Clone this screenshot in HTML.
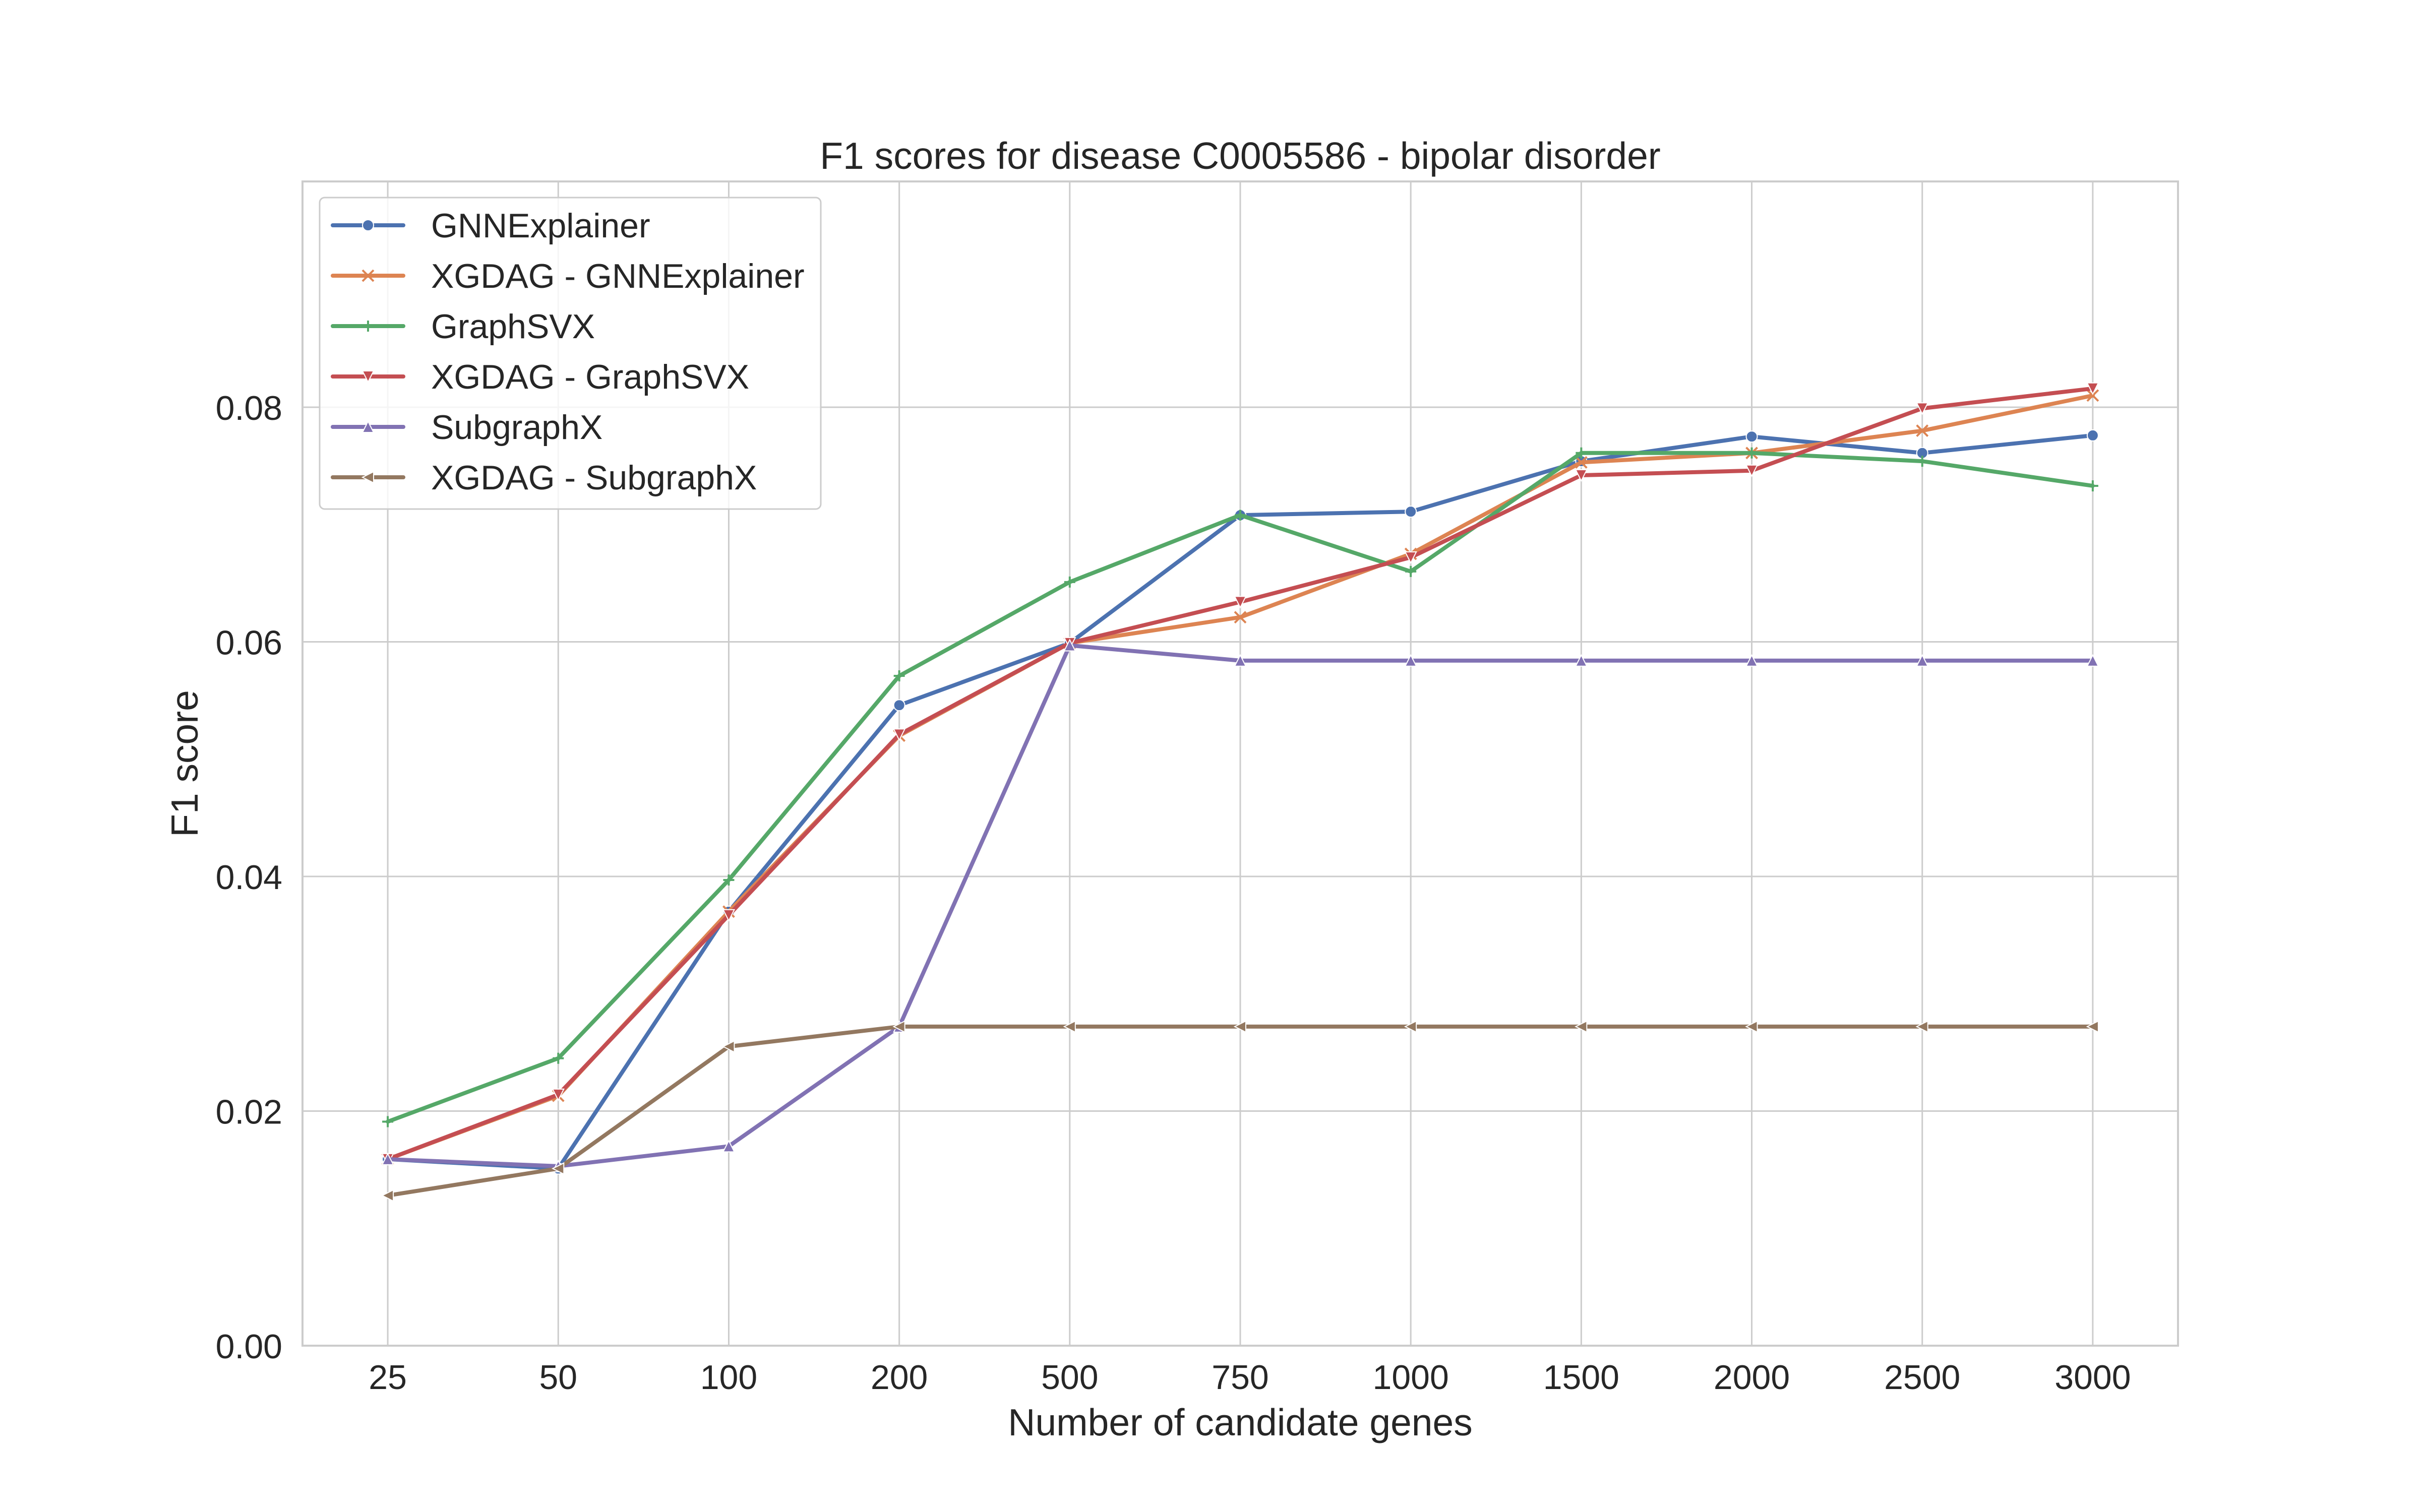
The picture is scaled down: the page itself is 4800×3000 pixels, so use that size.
<!DOCTYPE html>
<html><head><meta charset="utf-8"><style>
html,body{margin:0;padding:0;background:#fff;}
svg{display:block;font-family:"Liberation Sans","DejaVu Sans",sans-serif;}
</style></head><body>
<svg id="chart" width="4800" height="3000" viewBox="0 0 4800 3000" xmlns="http://www.w3.org/2000/svg">
<rect width="4800" height="3000" fill="#fff"/>
<g id="grid"></g>
<rect x="600" y="360" width="3720" height="2310" fill="none" stroke="#cccccc" stroke-width="4"/>
<g id="series"></g>
<g id="ticks"></g>
<text x="2460" y="335" text-anchor="middle" font-size="75" fill="#262626">F1 scores for disease C0005586 - bipolar disorder</text>
<text x="2460" y="2848" text-anchor="middle" font-size="75" fill="#262626">Number of candidate genes</text>
<text transform="translate(392,1515) rotate(-90)" text-anchor="middle" font-size="75" fill="#262626">F1 score</text>
<g id="legend"></g>
</svg>
<script>
const categories = ["25","50","100","200","500","750","1000","1500","2000","2500","3000"];
const yTicks = [0, 0.02, 0.04, 0.06, 0.08];
const yTickLabels = ["0.00","0.02","0.04","0.06","0.08"];
const seriesNames = ["GNNExplainer","XGDAG - GNNExplainer","GraphSVX","XGDAG - GraphSVX","SubgraphX","XGDAG - SubgraphX"];
const gnnExplainer = [0.0159,0.0151,0.0370,0.0546,0.0599,0.0708,0.0711,0.0754,0.0775,0.0761,0.0776];
const xgdagGnn = [0.0159,0.0213,0.0370,0.0520,0.0599,0.0621,0.0675,0.0753,0.0761,0.0780,0.0810];
const graphSvx = [0.0191,0.0245,0.0397,0.0571,0.0651,0.0708,0.0660,0.0761,0.0761,0.0754,0.0733];
const xgdagSvx = [0.0159,0.0214,0.0367,0.0521,0.0599,0.0634,0.0672,0.0742,0.0746,0.0799,0.0816];
const subgraphX = [0.0159,0.0153,0.0170,0.0272,0.0597,0.0584,0.0584,0.0584,0.0584,0.0584,0.0584];
const xgdagSub = [0.0128,0.0151,0.0255,0.0272,0.0272,0.0272,0.0272,0.0272,0.0272,0.0272,0.0272];
const allSeries = [gnnExplainer,xgdagGnn,graphSvx,xgdagSvx,subgraphX,xgdagSub];
const colors = ["#4c72b0","#dd8452","#55a868","#c44e52","#8172b3","#937860"];
const markers = ["circle","x","plus","tridown","triup","trileft"];

const L=600,R=4320,T=360,B=2670,YMAX=0.09925;
const xs = i => L + (i+0.5)*(R-L)/categories.length;
const ys = v => B - v/YMAX*(B-T);
const NS="http://www.w3.org/2000/svg";
function mk(tag, attrs, parent){const e=document.createElementNS(NS,tag);for(const k in attrs)e.setAttribute(k,attrs[k]);parent.appendChild(e);return e;}
const grid=document.getElementById('grid'),ticks=document.getElementById('ticks'),series=document.getElementById('series'),legend=document.getElementById('legend');

categories.forEach((c,i)=>{
  const l=mk('line',{x1:xs(i),x2:xs(i),y1:T,y2:B,stroke:'#cccccc','stroke-width':3},grid);
  
  
  const t=mk('text',{x:xs(i),y:B+86,'text-anchor':'middle','font-size':68,fill:'#262626'},ticks);
  t.textContent=c;
  
  
});
yTicks.forEach((v,i)=>{
  const l=mk('line',{x1:L,x2:R,y1:ys(v),y2:ys(v),stroke:'#cccccc','stroke-width':3},grid);
  
  
  const t=mk('text',{x:L-40,y:ys(v)+25,'text-anchor':'end','font-size':68,fill:'#262626'},ticks);
  t.textContent=yTickLabels[i];
  
  
});

function marker(type,x,y,color,parent){
  const s=11;let e;
  if(type==='circle') e=mk('circle',{cx:x,cy:y,r:s,fill:color,stroke:'#fff','stroke-width':2},parent);
  else if(type==='x') e=mk('path',{d:`M${x-s} ${y-s}L${x+s} ${y+s}M${x-s} ${y+s}L${x+s} ${y-s}`,stroke:color,'stroke-width':4},parent);
  else if(type==='plus') e=mk('path',{d:`M${x-s} ${y}L${x+s} ${y}M${x} ${y-s}L${x} ${y+s}`,stroke:color,'stroke-width':4},parent);
  else {
    let p;
    if(type==='tridown') p=[[x-s,y-s],[x+s,y-s],[x,y+s]];
    else if(type==='triup') p=[[x-s,y+s],[x+s,y+s],[x,y-s]];
    else p=[[x+s,y-s],[x+s,y+s],[x-s,y]];
    e=mk('polygon',{points:p.map(q=>q.join(',')).join(' '),fill:color,stroke:'#fff','stroke-width':2},parent);
  }
  return e;
}

allSeries.forEach((arr,si)=>{
  const g=mk('g',{},series);
  
  
  const pl=mk('polyline',{points:arr.map((v,i)=>xs(i)+','+ys(v)).join(' '),fill:'none',stroke:colors[si],'stroke-width':8,'stroke-linejoin':'round','stroke-linecap':'round'},g);
  
  
  arr.forEach((v,i)=>{
    const m=marker(markers[si],xs(i),ys(v),colors[si],g);
    
    
  });
});

const box=mk('rect',{x:634,y:392,width:994,height:618,rx:10,fill:'#fff','fill-opacity':0.8,stroke:'#cccccc','stroke-width':3},legend);


seriesNames.forEach((n,i)=>{
  const y=447+i*100;
  const g=mk('g',{},legend);
  
  
  mk('line',{x1:660,x2:800,y1:y,y2:y,stroke:colors[i],'stroke-width':8,'stroke-linecap':'round'},g);
  marker(markers[i],730,y,colors[i],g);
  const t=mk('text',{x:855,y:y+24,'font-size':68,fill:'#262626'},g);
  t.textContent=n;
});
</script>
</body></html>
